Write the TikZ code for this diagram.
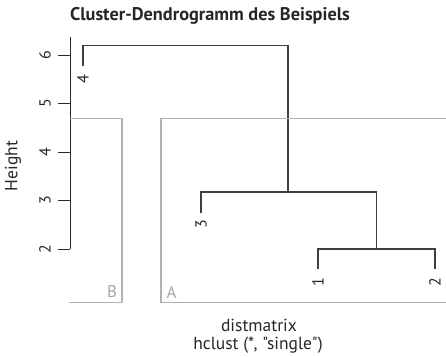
\documentclass[tikz,border=0pt]{standalone}
\usepackage{fontspec}
\setmainfont{PT Sans}
\newfontfamily\plainsans[Ligatures=TeXOff]{PT Sans}
\begin{document}
\begin{tikzpicture}[x=1pt,y=-1pt,
  tree/.style={draw=black!75, line width=1.1pt},
  axisline/.style={draw=black!85, line width=1pt},
  frame/.style={draw=black!30, line width=1.1pt},
  tick/.style={font=\fontsize{16}{16}\selectfont, text=black!85, rotate=90, inner sep=0pt},
  leaflabel/.style={font=\fontsize{16}{16}\selectfont, text=black!85, rotate=90, inner sep=0pt},
  tag/.style={font=\fontsize{17}{17}\selectfont, text=black!35, inner sep=0pt},
  caption/.style={font=\plainsans\fontsize{17.5}{17.5}\selectfont, text=black!85, inner sep=0pt}]
\useasboundingbox (0,0) rectangle (446,356);

% title
\node[font=\bfseries\fontsize{18.3}{18.3}\selectfont, text=black!85, inner sep=0pt] (title) at (210,16) {Cluster-Dendrogramm des Beispiels};

% height axis
\coordinate (ax0) at (70,37);
\coordinate (ax1) at (70,249);
\draw[axisline] (ax0) -- (ax1);
\foreach \v/\y in {2/249,3/200.5,4/152,5/103.5,6/55} {
  \coordinate (t\v) at (70,\y);
  \coordinate (s\v) at (58,\y);
  \draw[axisline] (s\v) -- (t\v);
  \node[tick] (lab\v) at (45,\y) {\v};
}
\node[caption, rotate=90] (ylab) at (13,166) {Height};

% leaves and merge points
\coordinate (l4) at (83,66);
\coordinate (l3) at (201,213);
\coordinate (l1) at (318,269);
\coordinate (l2) at (435,269);
\coordinate (n12) at (376.5,249);
\coordinate (n123) at (288,192);
\coordinate (root) at (288,45.5);

\draw[tree] (l1) |- (n12) -| (l2);
\draw[tree] (l3) |- (n123) -| (n12);
\draw[tree] (l4) |- (root) -- (n123);

\node[leaflabel] (x4) at (83,79) {4};
\node[leaflabel] (x3) at (201,224) {3};
\node[leaflabel] (x1) at (318,282) {1};
\node[leaflabel] (x2) at (435,282) {2};

% cluster frames
\coordinate (b0) at (70,118.5);
\coordinate (b1) at (122,118.5);
\coordinate (b2) at (122,302.5);
\coordinate (b3) at (69,302.5);
\draw[frame] (b0) -- (b1) -- (b2) -- (b3);
\node[tag] (tb) at (112,292) {B};

\coordinate (a0) at (446,118.5);
\coordinate (a1) at (161,118.5);
\coordinate (a2) at (161,302.5);
\coordinate (a3) at (446,302.5);
\draw[frame] (a0) -- (a1) -- (a2) -- (a3);
\node[tag] (ta) at (171.5,292) {A};

% x captions
\node[caption] (c1) at (259,325) {distmatrix};
\node[caption] (c2) at (258,345) {hclust (*, "single")};
\end{tikzpicture}
\end{document}
